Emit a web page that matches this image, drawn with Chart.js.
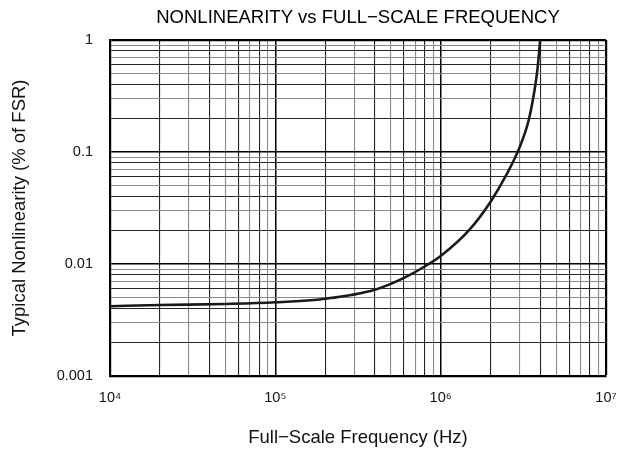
<!DOCTYPE html>
<html><head><meta charset="utf-8">
<script src="https://cdn.jsdelivr.net/npm/chart.js@4/dist/chart.umd.min.js"></script>
<style>html,body{margin:0;padding:0;background:#fff}#wrap{width:634px;height:450px}</style>
</head><body><div id="wrap"><canvas id="c" width="634" height="450"></canvas></div>
<script>
const chartTitle = 'NONLINEARITY vs FULL\u2212SCALE FREQUENCY';
const xAxisTitle = 'Full\u2212Scale Frequency (Hz)';
const yAxisTitle = 'Typical Nonlinearity (% of FSR)';

const frequencyHz = [1e4, 2e4, 5e4, 1e5, 2e5, 4e5, 6e5, 8e5, 1e6, 1.5e6, 2e6, 2.5e6, 3e6, 3.4e6, 3.7e6, 3.85e6, 4.0e6];
const nonlinearityPct = [0.0042, 0.0043, 0.0044, 0.00455, 0.0049, 0.0059, 0.00753, 0.0095, 0.0118, 0.0204, 0.0358, 0.0627, 0.11, 0.19, 0.36, 0.55, 1.0];

const xTickValues = [1e4, 1e5, 1e6, 1e7];
const xTickText = ['10\u2074', '10\u2075', '10\u2076', '10\u2077'];
const yTickValues = [0.001, 0.01, 0.1, 1];
const yTickText = ['0.001', '0.01', '0.1', '1'];

const FONT = "'Liberation Sans', Arial, Helvetica, sans-serif";

function decadeGrid(min, max) {
  const out = [];
  for (let e = Math.round(Math.log10(min)); e < Math.round(Math.log10(max)); e++) {
    for (let m = 1; m <= 9; m++) out.push({ value: m * Math.pow(10, e) });
  }
  out.push({ value: max });
  return out;
}
function mantissa(v) {
  const e = Math.floor(Math.log10(v) + 1e-9);
  return Math.round(v / Math.pow(10, e));
}
function lookup(vals, txt, v) {
  for (let i = 0; i < vals.length; i++) if (Math.abs(v / vals[i] - 1) < 1e-6) return txt[i];
  return '';
}
function gridColor(ctx) {
  if (!ctx.tick) return '#000';
  const m = mantissa(ctx.tick.value);
  if (m === 1) return '#000';
  return (m % 2 === 1) ? '#8a8a8a' : '#262626';
}
function gridWidth(max) {
  return ctx => {
    if (!ctx.tick) return 1;
    const v = ctx.tick.value;
    if (Math.abs(v / max - 1) < 1e-6) return 2.2;
    return mantissa(v) === 1 ? 1.5 : 1.1;
  };
}

new Chart(document.getElementById('c'), {
  type: 'line',
  data: {
    datasets: [{
      data: frequencyHz.map((f, i) => ({ x: f, y: nonlinearityPct[i] })),
      borderColor: '#1a1a1a',
      borderWidth: 2.6,
      pointRadius: 0,
      cubicInterpolationMode: 'monotone',
      fill: false
    }]
  },
  options: {
    responsive: false,
    animation: false,
    devicePixelRatio: 1,
    layout: { padding: { left: 0, right: 28, top: 0, bottom: 0 } },
    plugins: {
      legend: { display: false },
      tooltip: { enabled: false },
      title: {
        display: true,
        fullSize: false,
        text: chartTitle,
        color: '#000',
        font: { family: FONT, size: 18.5, weight: 'normal', lineHeight: 1.2 },
        padding: { top: 7, bottom: 10.8 }
      }
    },
    scales: {
      x: {
        type: 'logarithmic',
        min: 1e4, max: 1e7,
        afterBuildTicks: s => { s.ticks = decadeGrid(1e4, 1e7); },
        afterFit: s => { s.height = 74; },
        ticks: {
          autoSkip: false, maxRotation: 0, padding: 13,
          color: '#111', font: { family: FONT, size: 14.5 },
          callback: v => lookup(xTickValues, xTickText, v)
        },
        grid: { color: gridColor, lineWidth: gridWidth(1e7), drawTicks: false },
        border: { display: true, color: '#000', width: 2.2 },
        title: {
          display: true, text: xAxisTitle, color: '#111',
          font: { family: FONT, size: 18.5, lineHeight: 1.2 }, padding: { top: 0, bottom: 1 }
        }
      },
      y: {
        type: 'logarithmic',
        min: 0.001, max: 1,
        afterBuildTicks: s => { s.ticks = decadeGrid(0.001, 1); },
        afterFit: s => { s.width = 110; },
        ticks: {
          autoSkip: false, padding: 17,
          color: '#111', font: { family: FONT, size: 14.5 },
          callback: v => lookup(yTickValues, yTickText, v)
        },
        grid: { color: gridColor, lineWidth: gridWidth(1), drawTicks: false },
        border: { display: true, color: '#000', width: 2.2 },
        title: {
          display: true, text: yAxisTitle, color: '#111',
          font: { family: FONT, size: 18.5, lineHeight: 1.2 }, padding: { top: 9, bottom: 0 }
        }
      }
    }
  }
});
</script></body></html>
